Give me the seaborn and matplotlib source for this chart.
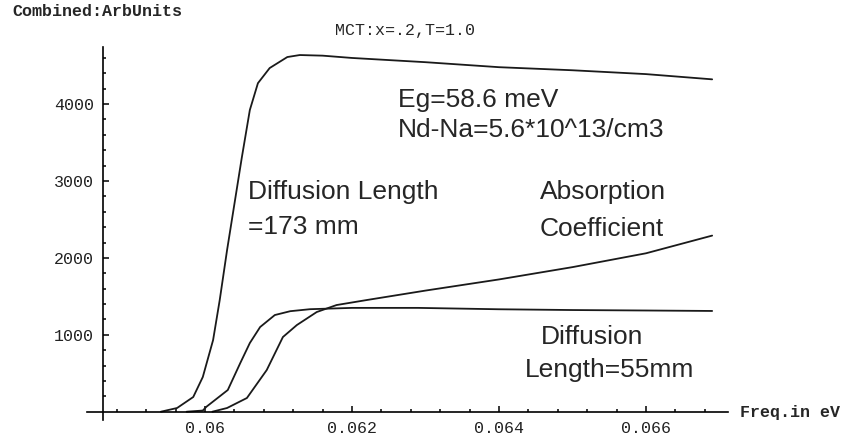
import numpy as np
import pandas as pd
import matplotlib
matplotlib.use("Agg")
import matplotlib.pyplot as plt
import seaborn as sns
from matplotlib.ticker import FixedLocator

sns.set_theme(style="white")
plt.rcParams['font.family'] = ['Liberation Sans', 'DejaVu Sans']

# ---- data ----
x_l173 = [0.05940, 0.05962, 0.05984, 0.05997, 0.06011, 0.06020, 0.06030, 0.06040,
          0.06050, 0.06061, 0.06072, 0.06088, 0.06112, 0.06129, 0.06160, 0.06200,
          0.06300, 0.06400, 0.06500, 0.06600, 0.06690]
y_l173 = [0, 48, 191, 451, 931, 1450, 2100, 2700,
          3300, 3923, 4272, 4469, 4612, 4638, 4630, 4600,
          4545, 4480, 4440, 4390, 4322]

x_l55 = [0.05975, 0.05997, 0.06002, 0.06031, 0.06048, 0.06061, 0.06075, 0.06095,
         0.06116, 0.06143, 0.06200, 0.06290, 0.06400, 0.06500, 0.06600, 0.06690]
y_l55 = [0, 15, 65, 282, 633, 893, 1101, 1257,
         1307, 1333, 1350, 1350, 1332, 1322, 1316, 1310]

x_abs = [0.06010, 0.06030, 0.06057, 0.06084, 0.06106, 0.06125, 0.06152, 0.06179,
         0.06220, 0.06300, 0.06400, 0.06500, 0.06600, 0.06690]
y_abs = [0, 48, 178, 542, 971, 1127, 1296, 1387,
         1452, 1575, 1720, 1880, 2060, 2290]

x_major = [0.060, 0.062, 0.064, 0.066]
x_labels = ["0.06", "0.062", "0.064", "0.066"]
y_major = [1000, 2000, 3000, 4000]
y_labels = ["1000", "2000", "3000", "4000"]

# ---- figure ----
W, H = 849, 442
fig = plt.figure(figsize=(W / 100, H / 100), dpi=100)
ax = fig.add_axes([0, 0, 1, 1])

# pixel <-> data mapping
px_per_x = 73500.0
x0_px, x0_val = 205.0, 0.060
y0_px, px_per_y = 411.7, 0.0769
xmin = x0_val - x0_px / px_per_x
xmax = x0_val + (W - x0_px) / px_per_x
ymax = y0_px / px_per_y
ymin = -(H - y0_px) / px_per_y

frames = []
for name, xs, ys in [("l173", x_l173, y_l173), ("l55", x_l55, y_l55), ("abs", x_abs, y_abs)]:
    frames.append(pd.DataFrame({"f": xs, "v": ys, "c": name}))
df = pd.concat(frames, ignore_index=True)

sns.lineplot(data=df, x="f", y="v", units="c", estimator=None, color="#1a1a1a",
             linewidth=1.3, ax=ax, sort=True)

ax.set_xlim(xmin, xmax)
ax.set_ylim(ymin, ymax)
ax.set_xlabel("")
ax.set_ylabel("")

x_cross = xmin + 103 / px_per_x
for s in ["top", "right"]:
    ax.spines[s].set_visible(False)
ax.spines["left"].set_position(("data", x_cross))
ax.spines["bottom"].set_position(("data", 0))
ax.spines["left"].set_bounds(-(420 - y0_px) / px_per_y, (y0_px - 47) / px_per_y)
ax.spines["bottom"].set_bounds(xmin + 87 / px_per_x, xmin + 728 / px_per_x)
for s in ["left", "bottom"]:
    ax.spines[s].set_color("black")
    ax.spines[s].set_linewidth(1.2)

ax.xaxis.set_major_locator(FixedLocator(x_major))
minor_x = [round(0.0588 + 0.0004 * i, 5) for i in range(21)]
minor_x = [v for v in minor_x if min(abs(v - m) for m in x_major) > 1e-6]
ax.xaxis.set_minor_locator(FixedLocator(minor_x))
ax.yaxis.set_major_locator(FixedLocator(y_major))
ax.yaxis.set_minor_locator(FixedLocator([v for v in range(200, 4800, 200) if v % 1000]))
ax.set_xticklabels(x_labels)
ax.set_yticklabels(y_labels)
ax.tick_params(axis="x", which="both", direction="in", bottom=True, color="black", pad=6.5)
ax.tick_params(axis="y", which="both", direction="in", left=True, color="black", pad=6.5)
ax.tick_params(which="major", length=4, width=1.1)
ax.tick_params(which="minor", length=2.5, width=1.1)
mono = dict(family=["Liberation Mono", "DejaVu Sans Mono"], size=12)
for lab in ax.get_xticklabels() + ax.get_yticklabels():
    lab.set_fontfamily(mono["family"])
    lab.set_fontsize(mono["size"])
    lab.set_color("#222222")

# texts
fig.text(12 / W, 1 - 12 / H, "Combined:ArbUnits", ha="left", va="center",
         fontweight="bold", **mono)
fig.text(405 / W, 1 - 30 / H, "MCT:x=.2,T=1.0", ha="center", va="center", **mono)
fig.text(740 / W, 1 - 412 / H, "Freq.in eV", ha="left", va="center",
         fontweight="bold", **mono)

sans = dict(family=["Liberation Sans", "DejaVu Sans"], size=19)
fig.text(398 / W, 1 - 100 / H, "Eg=58.6 meV", ha="left", va="center", **sans)
fig.text(398 / W, 1 - 130 / H, "Nd-Na=5.6*10^13/cm3", ha="left", va="center", **sans)
fig.text(248 / W, 1 - 192 / H, "Diffusion Length", ha="left", va="center", **sans)
fig.text(248 / W, 1 - 227 / H, "=173 mm", ha="left", va="center", **sans)
fig.text(540 / W, 1 - 192 / H, "Absorption", ha="left", va="center", **sans)
fig.text(540 / W, 1 - 229 / H, "Coefficient", ha="left", va="center", **sans)
fig.text(541 / W, 1 - 337 / H, "Diffusion", ha="left", va="center", **sans)
fig.text(525 / W, 1 - 370 / H, "Length=55mm", ha="left", va="center", **sans)

fig.savefig("out.png", dpi=100)
